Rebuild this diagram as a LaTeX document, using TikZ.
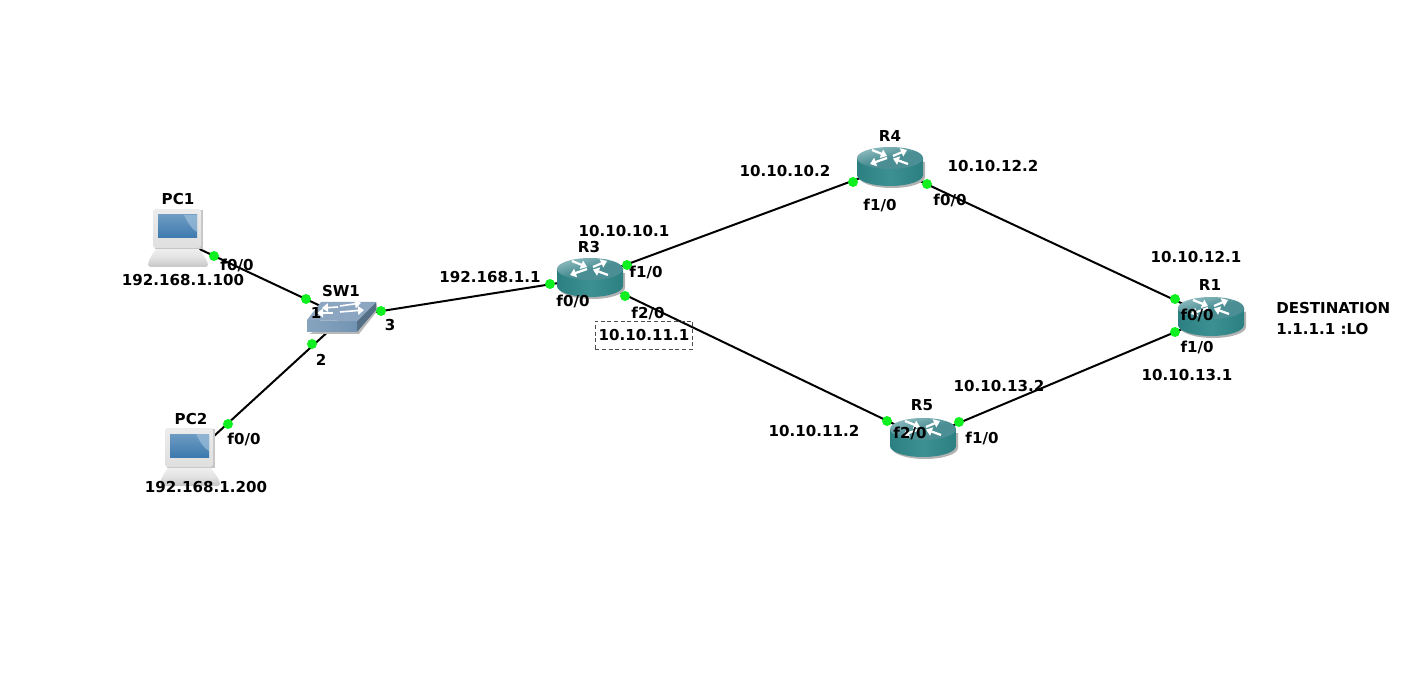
\documentclass[tikz,border=0pt]{standalone}
\usepackage{fontspec}
\usetikzlibrary{arrows.meta}
\setmainfont{DejaVu Sans}
\pgfdeclarelayer{links}
\pgfsetlayers{links,main}
\definecolor{portgreen}{HTML}{10F020}
\definecolor{rtop}{HTML}{4B8F94}
\definecolor{rtoplight}{HTML}{8FBCC0}
\definecolor{rside}{HTML}{2C8082}
\definecolor{rsidelight}{HTML}{3C9091}
\definecolor{pcframe}{HTML}{E4E5E7}
\definecolor{pcscreen}{HTML}{3D7AAE}
\definecolor{pcscreenl}{HTML}{A9C7E0}
\definecolor{swtop}{HTML}{8CA6C2}
\definecolor{swfront}{HTML}{7294B3}
\tikzset{
  x=0.75pt,y=-0.75pt,
  lbl/.style={font=\fontsize{11.3pt}{13pt}\selectfont\bfseries,inner sep=0pt,text=black},
  dev/.style={inner sep=0pt,minimum size=1pt},
  port/.style={circle,fill=portgreen,inner sep=0pt,minimum size=7.5pt},
  link/.style={draw=black,line width=1.5pt},
  wa/.style={white,line width=1.7pt,-{Triangle[length=4.5pt,width=6.5pt]}},
  router/.pic={
    \fill[gray!60] (-31,-5) -- (-31,10) arc[start angle=180,end angle=0,x radius=33,y radius=11] -- (35,-5) -- cycle;
    \shade[left color=rside,right color=rside,middle color=rsidelight] (-33,-9) -- (-33,8) arc[start angle=180,end angle=0,x radius=33,y radius=11] -- (33,-9) -- cycle;
    \shade[top color=rtoplight,bottom color=rtop,middle color=rtop,shading angle=15] (0,-9) ellipse[x radius=33,y radius=11];
    \draw[wa] (-18,-17) -- (-3,-11);
    \draw[wa] (3,-11) -- (17,-17);
    \draw[wa] (-3,-9) -- (-20,-3);
    \draw[wa] (18,-3) -- (3,-8.5);
  },
  pcicon/.pic={
    \shade[top color=gray!12,bottom color=gray!45,middle color=gray!22] (-21,9) -- (20,9) .. controls (25,15) and (30,22) .. (30,26) -- (28,28) -- (-28,28) -- (-30,26) .. controls (-30,22) and (-26,15) .. (-21,9) -- cycle;
    \fill[gray!45] (-23,-29) rectangle (25,10);
    \shade[top color=gray!15,bottom color=gray!25,rounded corners=2pt] (-25,-30) rectangle (23,9);
    \shade[bottom color=pcscreen,top color=pcscreen!75!white] (-20,-24) rectangle (19,-1);
    \fill[pcscreenl,opacity=.6] (19,-24) -- (6,-24) .. controls (11,-14) and (15,-9) .. (19,-7) -- cycle;
  },
  swicon/.pic={
    \fill[gray!55] (-35,17) -- (15,17) -- (34,-7) -- (32,-15) -- cycle;
    \shade[left color=swfront!85!white,right color=swfront] (-37,3) -- (13,4) -- (13,15) -- (-37,15) -- cycle;
    \fill[swfront!75!black] (13,4) -- (32,-15) -- (32,-7) -- (13,15) -- cycle;
    \fill[swtop] (-23,-15) -- (32,-15) -- (13,4) -- (-37,3) -- cycle;
    \draw[wa,line width=1.2pt] (-6,-10) -- (-22,-9);
    \draw[wa,line width=1.2pt] (-4,-11) -- (17,-14);
    \draw[wa,line width=1.2pt] (-11,-4) -- (-27,-4);
    \draw[wa,line width=1.2pt] (-4,-5) -- (20,-7);
  }
}
\begin{document}
\begin{tikzpicture}
\useasboundingbox (0,0) rectangle (1403,677);
% devices
\node[dev] (pc1) at (178,239) {}; \pic at (178,239) {pcicon};
\node[dev] (pc2) at (190,458) {}; \pic at (190,458) {pcicon};
\node[dev] (sw1) at (344,317) {}; \pic at (344,317) {swicon};
\node[dev] (r3) at (590,278) {}; \pic at (590,278) {router};
\node[dev] (r4) at (890,167) {}; \pic at (890,167) {router};
\node[dev] (r5) at (923,438) {}; \pic at (923,438) {router};
\node[dev] (r1) at (1211,317) {}; \pic at (1211,317) {router};
% connectors
\begin{pgfonlayer}{links}
\draw[link] (pc1) -- (sw1);
\draw[link] (pc2) -- (sw1);
\draw[link] (sw1) -- (r3);
\draw[link] (r3) -- (r4);
\draw[link] (r3) -- (r5);
\draw[link] (r4) -- (r1);
\draw[link] (r5) -- (r1);
\end{pgfonlayer}
% ports
\node[port] (p1) at (214,256) {};
\node[port] (p2) at (306,299) {};
\node[port] (p3) at (228,424) {};
\node[port] (p4) at (312,344) {};
\node[port] (p5) at (381,311) {};
\node[port] (p6) at (550,284) {};
\node[port] (p7) at (627,265) {};
\node[port] (p8) at (853,182) {};
\node[port] (p9) at (625,296) {};
\node[port] (p10) at (887,421) {};
\node[port] (p11) at (927,184) {};
\node[port] (p12) at (1175,299) {};
\node[port] (p13) at (959,422) {};
\node[port] (p14) at (1175,332) {};
% labels
\node[lbl] (t1) at (178,199) {PC1};
\node[lbl] (t2) at (183,280) {192.168.1.100};
\node[lbl] (t3) at (237,265) {f0/0};
\node[lbl] (t4) at (191,419) {PC2};
\node[lbl] (t5) at (206,487) {192.168.1.200};
\node[lbl] (t6) at (244,439) {f0/0};
\node[lbl] (t7) at (341,291) {SW1};
\node[lbl] (t8) at (316,313) {1};
\node[lbl] (t9) at (390,325) {3};
\node[lbl] (t10) at (321,360) {2};
\node[lbl] (t11) at (490,277) {192.168.1.1};
\node[lbl] (t12) at (624,231) {10.10.10.1};
\node[lbl] (t13) at (589,247) {R3};
\node[lbl] (t14) at (573,301) {f0/0};
\node[lbl] (t15) at (646,272) {f1/0};
\node[lbl] (t16) at (648,313) {f2/0};
\node[lbl,draw=black!70,densely dashed,line width=0.6pt,minimum width=73pt,minimum height=21pt] (t17) at (644,335) {10.10.11.1};
\node[lbl] (t18) at (890,136) {R4};
\node[lbl] (t19) at (785,171) {10.10.10.2};
\node[lbl] (t20) at (993,166) {10.10.12.2};
\node[lbl] (t21) at (880,205) {f1/0};
\node[lbl] (t22) at (950,200) {f0/0};
\node[lbl] (t23) at (1210,285) {R1};
\node[lbl] (t24) at (1197,315) {f0/0};
\node[lbl] (t25) at (1197,347) {f1/0};
\node[lbl] (t26) at (1196,257) {10.10.12.1};
\node[lbl] (t27) at (1187,375) {10.10.13.1};
\node[lbl,anchor=west] (t28) at (1276,308) {DESTINATION};
\node[lbl,anchor=west] (t29) at (1276,329) {1.1.1.1 :LO};
\node[lbl] (t30) at (922,405) {R5};
\node[lbl] (t31) at (910,433) {f2/0};
\node[lbl] (t32) at (982,438) {f1/0};
\node[lbl] (t33) at (999,386) {10.10.13.2};
\node[lbl] (t34) at (814,431) {10.10.11.2};
\end{tikzpicture}
\end{document}
